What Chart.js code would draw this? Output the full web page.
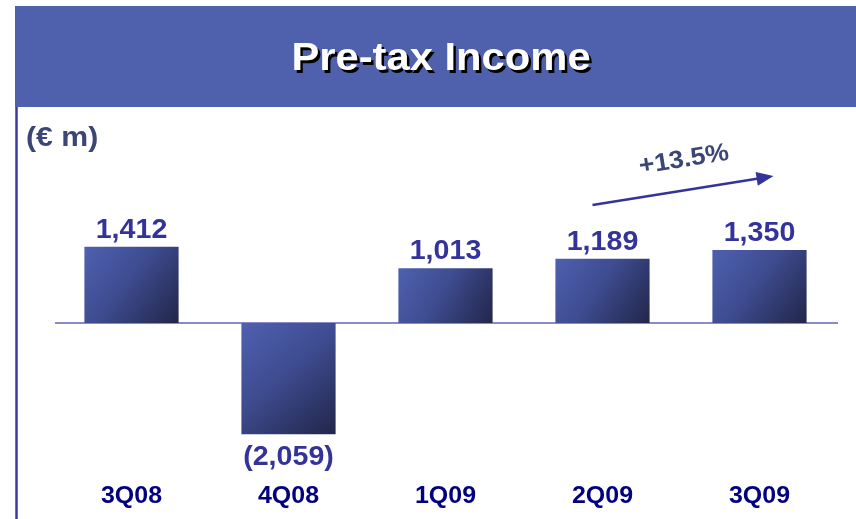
<!DOCTYPE html>
<html>
<head>
<meta charset="utf-8">
<script src="https://cdn.jsdelivr.net/npm/chart.js@4/dist/chart.umd.min.js"></script>
<style>
  html, body { margin: 0; padding: 0; background: #fff; }
  #wrap { width: 856px; height: 519px; }
</style>
</head>
<body>
<div id="wrap"><canvas id="pretaxChart" width="856" height="519"></canvas></div>
<script>
// chart data
const quarters = ['3Q08', '4Q08', '1Q09', '2Q09', '3Q09'];
const pretaxIncome = [1412, -2059, 1013, 1189, 1350];
const chartTitle = 'Pre-tax Income';
const unitLabel = '(\u20AC m)';
const growthLabel = '+13.5%';

const FONT = '"Liberation Sans", Arial, sans-serif';

function fmt(v) {
  const s = Math.abs(v).toLocaleString('en-US');
  return v < 0 ? '(' + s + ')' : s;
}

// diagonal gradient for one bar, light blue top-left to dark navy bottom-right
function makeGradient(c, left, top, right, bottom) {
  const g = c.createLinearGradient(left, top, right, bottom);
  g.addColorStop(0, '#4e60b0');
  g.addColorStop(0.45, '#3e4c90');
  g.addColorStop(1, '#22264a');
  return g;
}

// scriptable so every bar gets its own options object (set for real before drawing)
function barColor(context) {
  return '#3c4a8a';
}

// text drawn slightly wider than the font, like the original slide
function wideText(ctx, text, x, y, stretch) {
  ctx.save();
  ctx.translate(x, y);
  ctx.scale(stretch, 1);
  ctx.fillText(text, 0, 0);
  ctx.restore();
}

const decorations = {
  id: 'decorations',
  beforeDraw(chart) {
    const ctx = chart.ctx;
    ctx.save();
    ctx.fillStyle = '#fff';
    ctx.fillRect(0, 0, chart.width, chart.height);
    // header band
    ctx.fillStyle = '#4f60ad';
    ctx.fillRect(15, 6, chart.width - 15, 101);
    // left rule
    ctx.strokeStyle = '#3a3aa0';
    ctx.lineWidth = 2.5;
    ctx.beginPath();
    ctx.moveTo(16.5, 107);
    ctx.lineTo(16.5, chart.height);
    ctx.stroke();
    // title with shadow
    ctx.font = 'bold 39px ' + FONT;
    ctx.textAlign = 'center';
    ctx.textBaseline = 'alphabetic';
    ctx.fillStyle = '#000';
    wideText(ctx, chartTitle, 443.5, 72.5, 1.07);
    ctx.fillStyle = '#fff';
    wideText(ctx, chartTitle, 441, 70, 1.07);
    // unit
    ctx.font = 'bold 27px ' + FONT;
    ctx.textAlign = 'left';
    ctx.fillStyle = '#3b4677';
    wideText(ctx, unitLabel, 26, 146, 1.12);
    ctx.restore();
  },
  beforeDatasetsDraw(chart) {
    const ctx = chart.ctx;
    const ys = chart.scales.y;
    const y0 = ys.getPixelForValue(0);
    ctx.save();
    ctx.strokeStyle = '#8a8ac8';
    ctx.lineWidth = 2;
    ctx.beginPath();
    ctx.moveTo(chart.chartArea.left + 2, y0);
    ctx.lineTo(chart.chartArea.right, y0);
    ctx.stroke();
    ctx.restore();
    // gradients from the bars' own geometry
    chart.getDatasetMeta(0).data.forEach((bar) => {
      const half = bar.width / 2;
      const top = Math.min(bar.y, bar.base), bot = Math.max(bar.y, bar.base);
      if ([bar.x, half, top, bot].every(Number.isFinite)) {
        bar.options.backgroundColor = makeGradient(ctx, bar.x - half, top, bar.x + half, bot);
      }
    });
  },
  afterDatasetsDraw(chart) {
    const ctx = chart.ctx;
    const xs = chart.scales.x, ys = chart.scales.y;
    const meta = chart.getDatasetMeta(0);
    ctx.save();
    ctx.textAlign = 'center';
    ctx.textBaseline = 'alphabetic';
    // value labels
    ctx.font = 'bold 27px ' + FONT;
    ctx.fillStyle = '#333399';
    meta.data.forEach((bar, i) => {
      const v = pretaxIncome[i];
      wideText(ctx, fmt(v), bar.x, v >= 0 ? bar.y - 9 : bar.y + 31, 1.06);
    });
    // category labels
    ctx.font = 'bold 24px ' + FONT;
    ctx.fillStyle = '#000080';
    quarters.forEach((q, i) => {
      wideText(ctx, q, xs.getPixelForValue(i), 503, 1.04);
    });
    // growth arrow from 2Q09 to 3Q09
    const x1 = xs.getPixelForValue(3) - 10, y1 = ys.getPixelForValue(2185);
    const x2 = xs.getPixelForValue(4) + 14, y2 = ys.getPixelForValue(2720);
    const ang = Math.atan2(y2 - y1, x2 - x1);
    const cs = Math.cos(ang), sn = Math.sin(ang);
    ctx.strokeStyle = '#333399';
    ctx.fillStyle = '#333399';
    ctx.lineWidth = 2.5;
    ctx.beginPath();
    ctx.moveTo(x1, y1);
    ctx.lineTo(x2 - 12 * cs, y2 - 12 * sn);
    ctx.stroke();
    ctx.beginPath();
    ctx.moveTo(x2, y2);
    ctx.lineTo(x2 - 17 * cs + 7 * sn, y2 - 17 * sn - 7 * cs);
    ctx.lineTo(x2 - 17 * cs - 7 * sn, y2 - 17 * sn + 7 * cs);
    ctx.closePath();
    ctx.fill();
    // growth label, tilted along the arrow
    const lx = (xs.getPixelForValue(3) + xs.getPixelForValue(4)) / 2 + 3;
    const ly = ys.getPixelForValue(3020);
    ctx.translate(lx, ly);
    ctx.rotate(ang);
    ctx.font = 'bold 25px ' + FONT;
    ctx.fillStyle = '#3b4677';
    ctx.textBaseline = 'middle';
    wideText(ctx, growthLabel, 0, 0, 1.06);
    ctx.restore();
  }
};

const ctx = document.getElementById('pretaxChart').getContext('2d');
const pretaxChart = new Chart(ctx, {
  type: 'bar',
  data: {
    labels: quarters,
    datasets: [{
      label: 'Pre-tax Income',
      data: pretaxIncome,
      backgroundColor: barColor,
      borderWidth: 0,
      barPercentage: 0.6,
      categoryPercentage: 1.0
    }]
  },
  options: {
    responsive: false,
    animation: false,
    devicePixelRatio: 1,
    layout: { padding: { left: 53, right: 18, top: 215, bottom: 55.6 } },
    plugins: { legend: { display: false }, tooltip: { enabled: false } },
    scales: {
      x: { display: false },
      y: { display: false, min: -2600, max: 2000 }
    }
  },
  plugins: [decorations]
});
</script>
</body>
</html>
